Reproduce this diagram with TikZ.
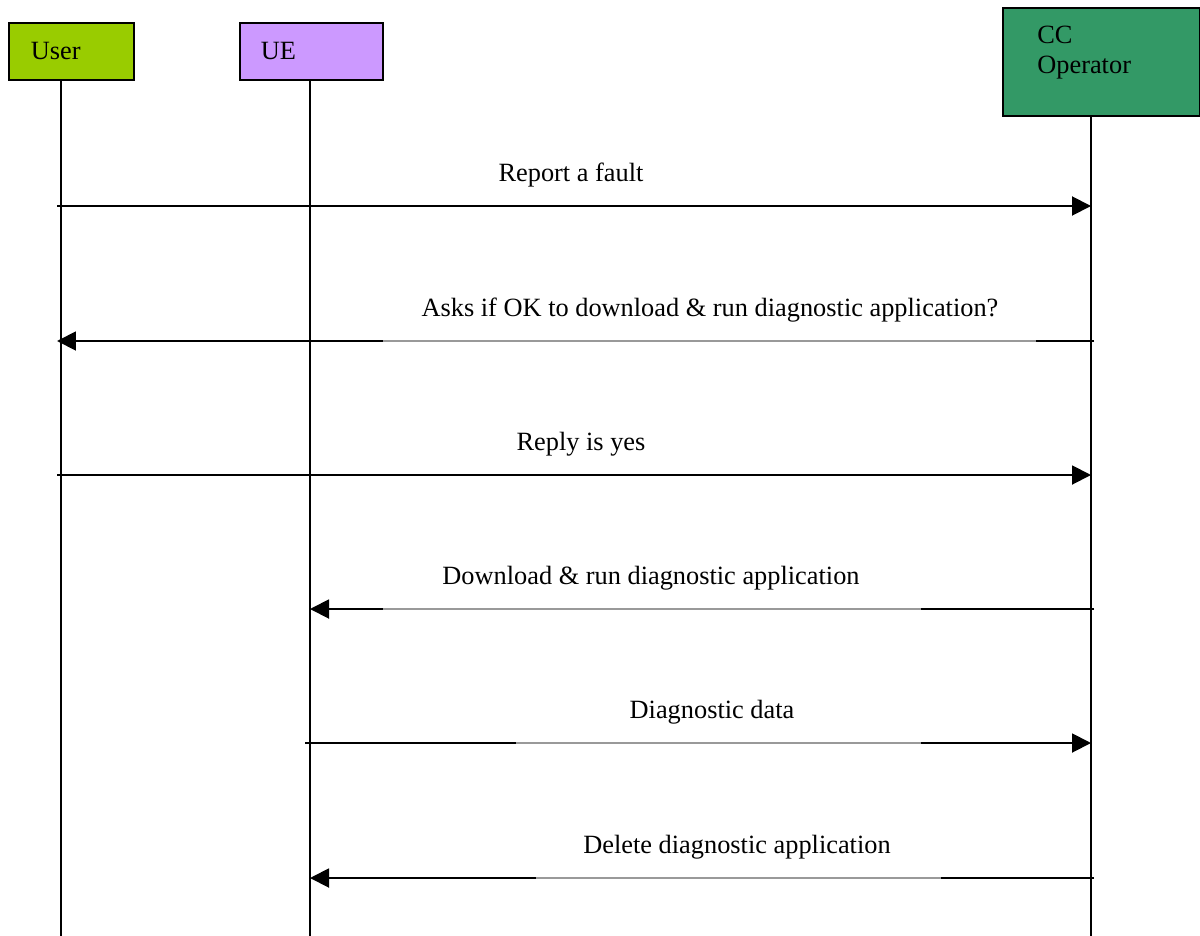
\documentclass[tikz,border=0pt]{standalone}
\usepackage{fontspec}
\setmainfont{Liberation Serif}
\usetikzlibrary{arrows.meta,positioning}
\definecolor{usergreen}{HTML}{99CC00}
\definecolor{uelilac}{HTML}{CC99FF}
\definecolor{ccgreen}{HTML}{339966}

\begin{document}
\begin{tikzpicture}[x=0.02cm, y=-0.02cm, >={Triangle[length=0.38cm,width=0.38cm]},
font=\fontsize{15}{17}\selectfont,
actor/.style={draw, line width=0.9pt, rectangle, anchor=north west, align=left},
life/.style={line width=0.85pt},
msg/.style={->, line width=1.1pt},
gap/.style={draw=gray!80, line width=0.6pt, preaction={draw=white, line width=2.4pt}},
lbl/.style={anchor=base, inner sep=0pt}]
        \useasboundingbox (0,0) rectangle (1200,936);
        % actors
        \node [actor, fill=usergreen, minimum width=2.5cm, minimum height=1.14cm,
               text width=1.62cm, inner xsep=0.44cm] (user) at (8,22) {User};
        \node [actor, fill=uelilac, minimum width=2.86cm, minimum height=1.14cm,
               text width=2.02cm, inner xsep=0.42cm] (ue) at (239,22) {UE};
        \node [actor, fill=ccgreen, minimum width=3.94cm, minimum height=2.16cm] (cc) at (1002,7) {};
        \node [anchor=north west, align=left, inner sep=0pt] (cctext) at (1037,26) {CC\\Operator};
        % lifelines
        \coordinate (ub) at (61,936);
        \coordinate (eb) at (310,936);
        \coordinate (cb) at (1091,936);
        \draw [life] (user.south -| ub) -- (ub);
        \draw [life] (ue.south -| eb) -- (eb);
        \draw [life] (cc.south -| cb) -- (cb);
        % messages
        \draw [msg] (57,206) -- (cb |- 0,206);
        \node [lbl] (m1) at (571,181) {Report a fault};

        \draw [msg] (1094,341) -- (57,341);
        \draw [gap] (383,341) -- (1036,341);
        \node [lbl] (m2) at (710,316) {Asks if OK to download \& run diagnostic application?};

        \draw [msg] (57,475) -- (cb |- 0,475);
        \node [lbl] (m3) at (581,450) {Reply is yes};

        \draw [msg] (1094,609) -- (eb |- 0,609);
        \draw [gap] (383,609) -- (921,609);
        \node [lbl] (m4) at (651,584) {Download \& run diagnostic application};

        \draw [msg] (305,743) -- (cb |- 0,743);
        \draw [gap] (516,743) -- (921,743);
        \node [lbl] (m5) at (712,718) {Diagnostic data};

        \draw [msg] (1094,878) -- (eb |- 0,878);
        \draw [gap] (536,878) -- (941,878);
        \node [lbl] (m6) at (737,853) {Delete diagnostic application};
    \end{tikzpicture}
\end{document}
